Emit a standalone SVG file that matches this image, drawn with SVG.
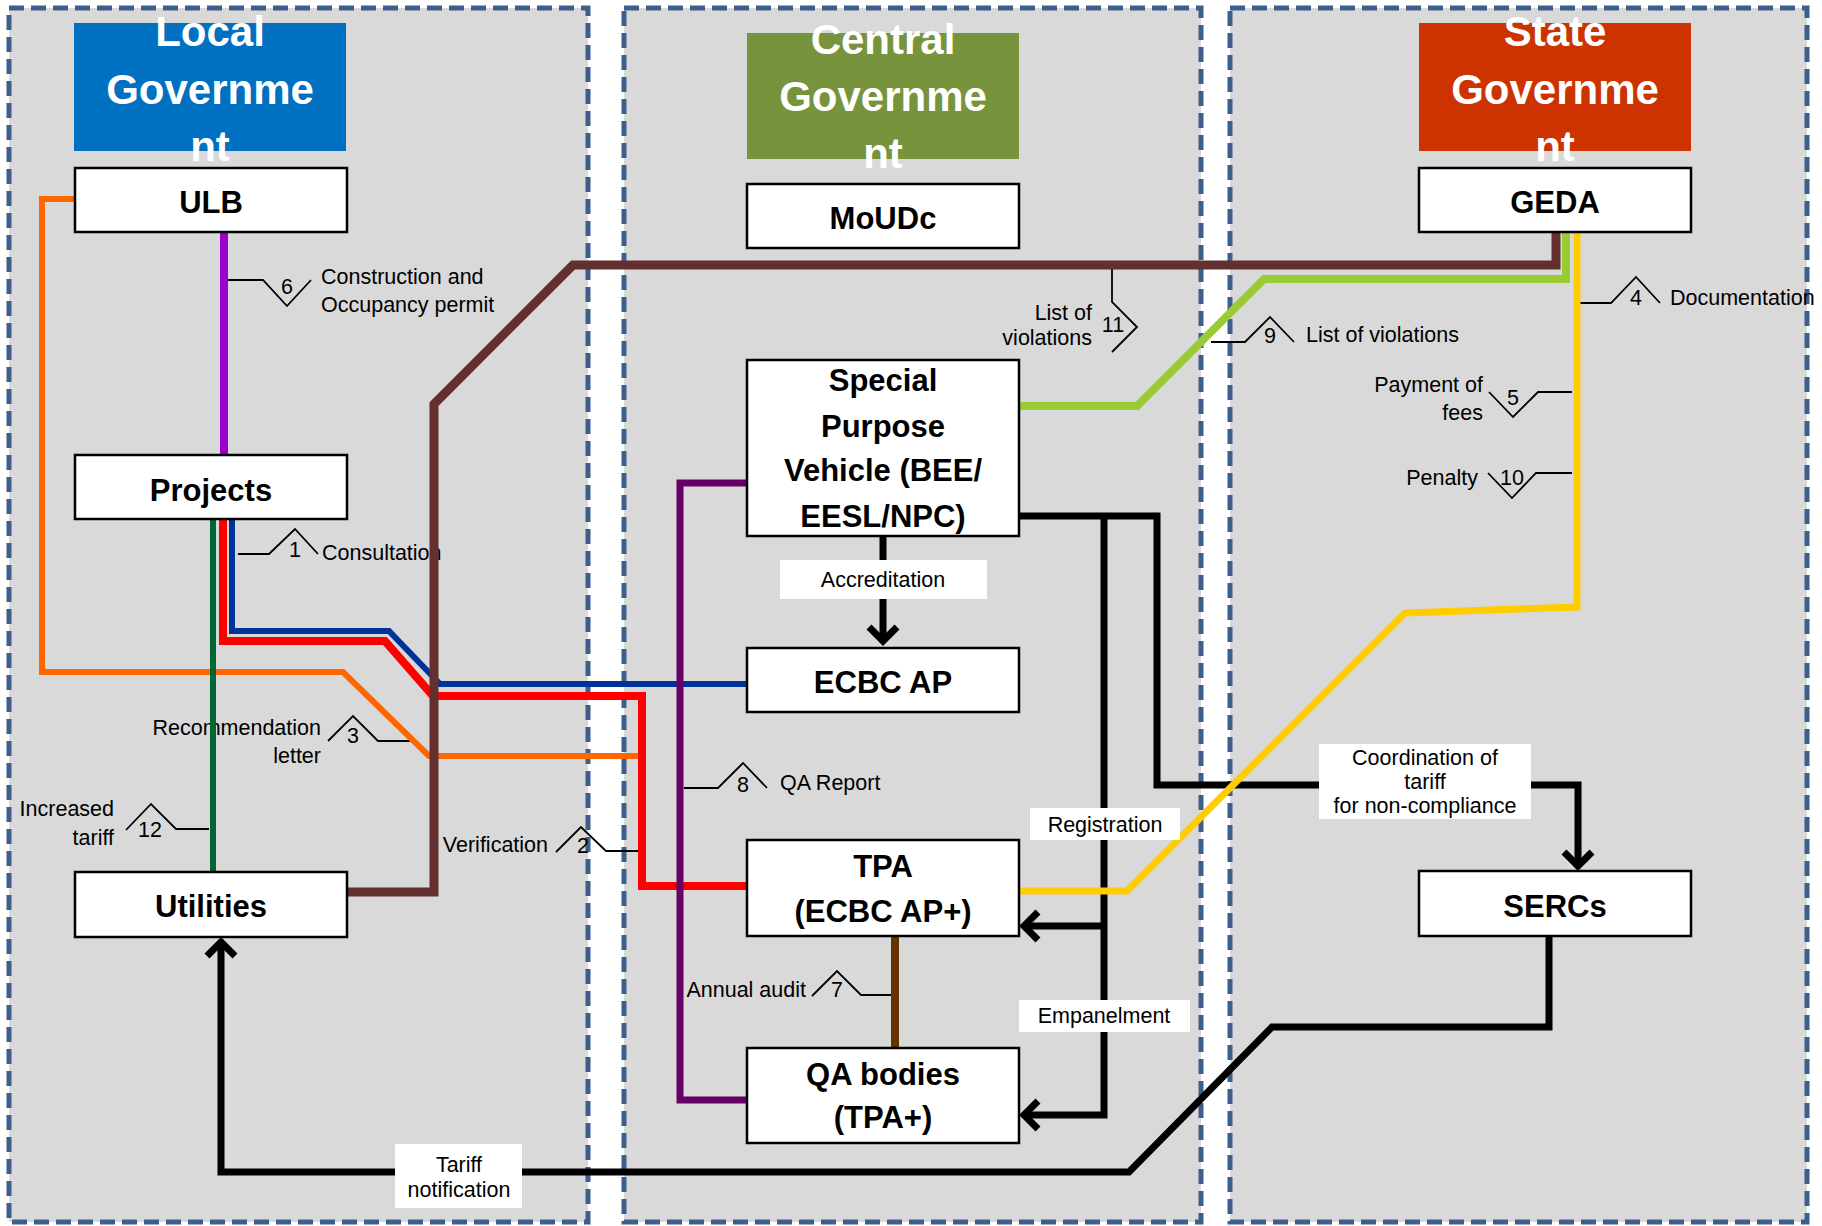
<svg xmlns="http://www.w3.org/2000/svg" width="1822" height="1226" viewBox="0 0 1822 1226">
<defs>
<style>
.panel{fill:#D9D9D9;stroke:#3D5F8E;stroke-width:5;stroke-dasharray:15 7}
.hdr{font-family:"Liberation Sans",Arial,sans-serif;font-weight:bold;font-size:42px;fill:#fff;text-anchor:middle}
.box{fill:#fff;stroke:#000;stroke-width:2.5}
.nt{font-family:"Liberation Sans",Arial,sans-serif;font-weight:bold;font-size:31px;fill:#000;text-anchor:middle}
.lt{font-family:"Liberation Sans",Arial,sans-serif;font-size:21.5px;fill:#000}
.mid{text-anchor:middle}
.end{text-anchor:end}
.co{fill:none;stroke:#000;stroke-width:1.8}
.ln{fill:none;stroke-linejoin:miter}
.blk{fill:none;stroke:#000;stroke-width:7}
.lbl{fill:#fff}
</style>
<marker id="arr" markerUnits="userSpaceOnUse" viewBox="-24 -24 48 48" markerWidth="48" markerHeight="48" refX="0" refY="0" orient="auto" overflow="visible">
<path d="M-14,-14 L0,0 L-14,14" fill="none" stroke="#000" stroke-width="7"/>
</marker>
</defs>
<rect x="0" y="0" width="1822" height="1226" fill="#fff"/>
<g id="panels">
<rect class="panel" x="9" y="8" width="579" height="1214"/>
<rect class="panel" x="624" y="8" width="577" height="1214"/>
<rect class="panel" x="1230" y="8" width="577" height="1214"/>
</g>
<g id="header-local">
<rect x="74" y="23" width="272" height="128" fill="#0070C0"/>
<text class="hdr" x="210" y="46">Local</text>
<text class="hdr" x="210" y="104">Governme</text>
<text class="hdr" x="210" y="161">nt</text>
</g>
<g id="header-central">
<rect x="747" y="33" width="272" height="126" fill="#77933C"/>
<text class="hdr" x="883" y="54">Central</text>
<text class="hdr" x="883" y="111">Governme</text>
<text class="hdr" x="883" y="168">nt</text>
</g>
<g id="header-state">
<rect x="1419" y="23" width="272" height="128" fill="#CC3300"/>
<text class="hdr" x="1555" y="46">State</text>
<text class="hdr" x="1555" y="104">Governme</text>
<text class="hdr" x="1555" y="161">nt</text>
</g>
<g id="callouts">
<path class="co" d="M228,280 H263 L287,306 L311,280"/>
<text class="lt mid" x="287" y="294">6</text>
<text class="lt" x="321" y="284">Construction and</text>
<text class="lt" x="321" y="312">Occupancy permit</text>
<path class="co" d="M238,554 H269 L295,529 L318,554"/>
<text class="lt mid" x="295" y="557">1</text>
<text class="lt" x="322" y="560">Consultation</text>
<path class="co" d="M410,741 H378 L353,716 L328,741"/>
<text class="lt mid" x="353" y="743">3</text>
<text class="lt end" x="321" y="735">Recommendation</text>
<text class="lt end" x="321" y="763">letter</text>
<path class="co" d="M209,829 H176 L151,804 L126,830"/>
<text class="lt mid" x="150" y="837">12</text>
<text class="lt end" x="114" y="816">Increased</text>
<text class="lt end" x="114" y="845">tariff</text>
<path class="co" d="M639,851 H606 L581,827 L556,852"/>
<text class="lt mid" x="583" y="853">2</text>
<text class="lt end" x="548" y="852">Verification</text>
<path class="co" d="M684,788 H718 L743,763 L767,788"/>
<text class="lt mid" x="743" y="792">8</text>
<text class="lt" x="780" y="790">QA Report</text>
<path class="co" d="M895,995 H861 L837,971 L812,996"/>
<text class="lt mid" x="837" y="997">7</text>
<text class="lt end" x="806" y="997">Annual audit</text>
<path class="co" d="M1112,265 V302 L1137,327 L1112,352"/>
<text class="lt mid" x="1113" y="332">11</text>
<text class="lt end" x="1092" y="320">List of</text>
<text class="lt end" x="1092" y="345">violations</text>
<path class="co" d="M1211,342 H1245 L1270,317 L1294,342"/>
<text class="lt mid" x="1270" y="343">9</text>
<text class="lt" x="1306" y="342">List of violations</text>
<path class="co" d="M1577,303 H1611 L1636,277 L1660,303"/>
<text class="lt mid" x="1636" y="305">4</text>
<text class="lt" x="1670" y="305">Documentation</text>
<path class="co" d="M1572,392 H1538 L1513,417 L1489,392"/>
<text class="lt mid" x="1513" y="405">5</text>
<text class="lt end" x="1483" y="392">Payment of</text>
<text class="lt end" x="1483" y="420">fees</text>
<path class="co" d="M1572,473 H1536 L1512,498 L1488,473"/>
<text class="lt mid" x="1512" y="485">10</text>
<text class="lt end" x="1478" y="485">Penalty</text>
</g>
<g id="connectors">
<path class="ln" d="M224,232 V455" stroke="#9900CC" stroke-width="8"/>
<path class="ln" d="M74,199 H42 V672 H343 L429,756 H640" stroke="#FF6600" stroke-width="6"/>
<path class="ln" d="M232,519 V631 H389 L440,684 H747" stroke="#003399" stroke-width="6"/>
<path class="ln" d="M223,519 V641 H385 L433,696 H642 V886 H747" stroke="#FF0000" stroke-width="8"/>
<path class="ln" d="M213,519 V871" stroke="#006633" stroke-width="6"/>
<path class="ln" d="M747,483 H680 V1100 H747" stroke="#660066" stroke-width="7"/>
<path class="ln" d="M346,892 H434 V404 L573,265 H1556 V231" stroke="#632F2F" stroke-width="9"/>
<path class="ln" d="M1019,406 H1137 L1264,279 H1566 V231" stroke="#99CC33" stroke-width="8"/>
<path class="blk" d="M883,536 V641" marker-end="url(#arr)"/>
<path class="blk" d="M1019,516 H1157 V785 H1578 V866" marker-end="url(#arr)"/>
<path class="blk" d="M1104,516 V1115 H1024" marker-end="url(#arr)"/>
<path class="blk" d="M1104,926 H1024" marker-end="url(#arr)"/>
<path class="blk" d="M1549,935 V1027 H1272 L1129,1172 H221 V942" marker-end="url(#arr)"/>
<path class="ln" d="M1577,231 V607 L1405,613 L1127,891 H1019" stroke="#FFCC00" stroke-width="7"/>
<path class="ln" d="M895,936 V1048" stroke="#663300" stroke-width="8"/>
</g>
<g id="labels">
<rect class="lbl" x="780" y="560" width="207" height="39"/>
<text class="lt mid" x="883" y="587">Accreditation</text>
<rect class="lbl" x="1030" y="808" width="150" height="32"/>
<text class="lt mid" x="1105" y="832">Registration</text>
<rect class="lbl" x="1019" y="1000" width="171" height="32"/>
<text class="lt mid" x="1104" y="1023">Empanelment</text>
<rect class="lbl" x="1319" y="744" width="212" height="75"/>
<text class="lt mid" x="1425" y="765">Coordination of</text>
<text class="lt mid" x="1425" y="789">tariff</text>
<text class="lt mid" x="1425" y="813">for non-compliance</text>
<rect class="lbl" x="395" y="1144" width="127" height="64"/>
<text class="lt mid" x="459" y="1172">Tariff</text>
<text class="lt mid" x="459" y="1197">notification</text>
</g>
<g id="node-ulb">
<rect class="box" x="75" y="168" width="272" height="64"/>
<text class="nt" x="211" y="213">ULB</text>
</g>
<g id="node-projects">
<rect class="box" x="75" y="455" width="272" height="64"/>
<text class="nt" x="211" y="501">Projects</text>
</g>
<g id="node-utilities">
<rect class="box" x="75" y="872" width="272" height="65"/>
<text class="nt" x="211" y="917">Utilities</text>
</g>
<g id="node-moudc">
<rect class="box" x="747" y="184" width="272" height="64"/>
<text class="nt" x="883" y="229">MoUDc</text>
</g>
<g id="node-spv">
<rect class="box" x="747" y="360" width="272" height="176"/>
<text class="nt" x="883" y="391">Special</text>
<text class="nt" x="883" y="437">Purpose</text>
<text class="nt" x="883" y="481">Vehicle (BEE/</text>
<text class="nt" x="883" y="527">EESL/NPC)</text>
</g>
<g id="node-ecbc">
<rect class="box" x="747" y="648" width="272" height="64"/>
<text class="nt" x="883" y="693">ECBC AP</text>
</g>
<g id="node-tpa">
<rect class="box" x="747" y="840" width="272" height="96"/>
<text class="nt" x="883" y="877">TPA</text>
<text class="nt" x="883" y="922">(ECBC AP+)</text>
</g>
<g id="node-qa">
<rect class="box" x="747" y="1048" width="272" height="95"/>
<text class="nt" x="883" y="1085">QA bodies</text>
<text class="nt" x="883" y="1128">(TPA+)</text>
</g>
<g id="node-geda">
<rect class="box" x="1419" y="168" width="272" height="64"/>
<text class="nt" x="1555" y="213">GEDA</text>
</g>
<g id="node-sercs">
<rect class="box" x="1419" y="871" width="272" height="65"/>
<text class="nt" x="1555" y="917">SERCs</text>
</g>
</svg>
